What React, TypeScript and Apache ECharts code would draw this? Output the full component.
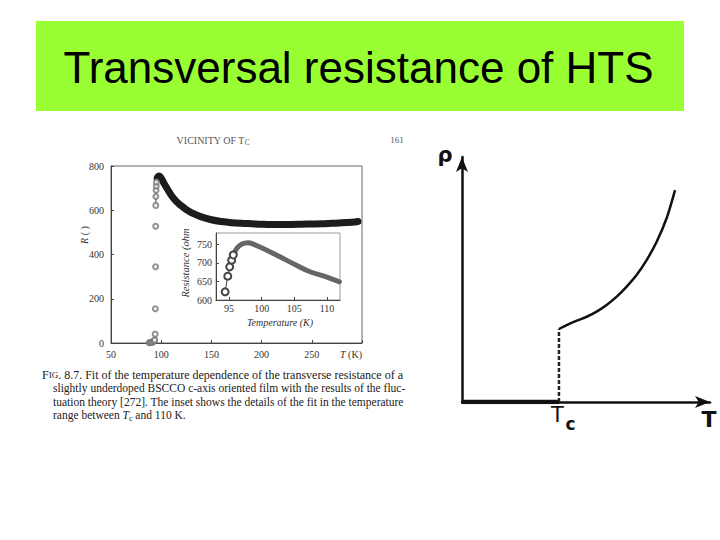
import React, { useEffect, useRef } from "react";
import * as echarts from "echarts";

// ---------- Data ----------
// Main chart: transverse resistance R (ohm) versus T (K)
const MAIN_T = [96, 97, 98, 100, 103, 106, 110, 115, 120, 125, 130, 140, 150, 160, 170, 180, 190, 200, 210, 220, 230, 240, 250, 260, 270, 280, 290, 296];
const MAIN_R = [745, 753, 755, 745, 720, 697, 668, 640, 620, 603, 589, 570, 557, 549, 544, 541, 539, 537, 536, 536, 536, 537, 538, 539, 541, 543, 546, 549];
// Transition region: individual open circles
const TRANS_T = [88, 89, 90, 91, 92, 93, 93.5, 94, 94.2, 94.4, 94.5, 94.6, 94.7, 94.9, 95.1, 95.3];
const TRANS_R = [1, 2, 3, 4, 6, 9, 14, 40, 155, 345, 528, 622, 662, 690, 710, 728];
// Fit line through the upper part of the transition
const FIT_T = [94.6, 94.7, 94.9, 95.1, 95.3, 96];
const FIT_R = [622, 662, 690, 710, 728, 745];
const MAIN_X_TICKS = [50, 100, 150, 200, 250, 300];
const MAIN_Y_TICKS = [0, 200, 400, 600, 800];

// Inset: details between Tc and 110 K
const INSET_CIRCLE_T = [94.4, 94.8, 95.1, 95.4, 95.65];
const INSET_CIRCLE_R = [622, 664, 689, 707, 721];
const INSET_T = [95.65, 96.2, 96.9, 97.95, 98.7, 100.15, 102.8, 105.25, 107.4, 110.1, 111.9];
const INSET_R = [721, 739, 750, 754, 750, 739, 716, 694, 676, 661, 649];
const INSET_X_TICKS = [95, 100, 105, 110];
const INSET_Y_TICKS = [600, 650, 700, 750];

// Schematic rho(T)
const TC = 3.91;
const TC_RHO = 2.98;
const SCHEM_T = [3.91, 4.22, 4.63, 5.03, 5.43, 5.83, 6.24, 6.64, 7.04, 7.45, 7.85, 8.25, 8.59];
const SCHEM_RHO = [2.98, 3.14, 3.32, 3.48, 3.69, 3.96, 4.3, 4.71, 5.18, 5.8, 6.54, 7.5, 8.65];

const TITLE = "Transversal resistance of HTS";
const CAPTION = [
  "{sc|F}{scs|IG}{sc|. 8.7.} Fit of the temperature dependence of the transverse resistance of a",
  "slightly underdoped BSCCO c-axis oriented film with the results of the fluc-",
  "tuation theory [272]. The inset shows the details of the fit in the temperature",
  "range between {i|T}{s|c} and 110 K.",
];
const CAPTION_SIZES = [12, 11.5, 11.5, 11.5];

const SERIF = "Liberation Serif";
const SANS = "Liberation Sans";

const zip = (a: number[], b: number[]) => a.map((v, i) => [v, b[i]]);

export default function App() {
  const ref = useRef<HTMLDivElement>(null);
  useEffect(() => {
    if (!ref.current) return;
    const chart = echarts.init(ref.current, undefined, { renderer: "svg" });

    const smallAxis = (extra: any) => ({
      type: "value",
      splitLine: { show: false },
      axisLine: { show: true, onZero: false, lineStyle: { color: "#444", width: 1 } },
      axisTick: { show: true, inside: true, length: 3, lineStyle: { color: "#444" } },
      axisLabel: { fontSize: 10, fontFamily: SERIF, color: "#333" },
      ...extra,
    });

    const schemAxis = (gridIndex: number) => ({
      type: "value",
      gridIndex,
      min: 0,
      max: 10,
      splitLine: { show: false },
      axisTick: { show: false },
      axisLabel: { show: false },
      axisLine: {
        show: true,
        onZero: false,
        symbol: ["none", "arrow"],
        symbolSize: [9, 15],
        lineStyle: { color: "#111", width: 2.5 },
      },
    });

    const captionRich = (fs: number) => ({
      sc: { fontSize: fs, fontFamily: SERIF, fill: "#222" },
      scs: { fontSize: fs * 0.75, fontFamily: SERIF, fill: "#222" },
      i: { fontSize: fs, fontFamily: SERIF, fontStyle: "italic", fill: "#222" },
      s: { fontSize: fs * 0.68, fontFamily: SERIF, fill: "#222", padding: [6, 0, 0, 0] },
    });

    const option: any = {
      animation: false,
      backgroundColor: "#ffffff",
      grid: [
        { left: 111, top: 166, width: 251, height: 177, show: true, borderColor: "#666", borderWidth: 1 },
        { left: 216, top: 233, width: 124, height: 67, show: true, borderColor: "#999", borderWidth: 1, backgroundColor: "#ffffff" },
        { left: 462, top: 157, width: 248, height: 245 },
      ],
      xAxis: [
        smallAxis({
          gridIndex: 0,
          min: MAIN_X_TICKS[0],
          max: MAIN_X_TICKS[MAIN_X_TICKS.length - 1],
          interval: 50,
          axisLabel: {
            fontSize: 10,
            fontFamily: SERIF,
            color: "#333",
            margin: 6,
            alignMaxLabel: "right",
            formatter: (v: number) => (v === 300 ? "{i|T} (K)" : String(v)),
            rich: { i: { fontSize: 10, fontFamily: SERIF, fontStyle: "italic", color: "#333" } },
          },
        }),
        smallAxis({
          gridIndex: 1,
          min: 93,
          max: 112,
          axisTick: { show: true, inside: true, length: 3, customValues: INSET_X_TICKS, lineStyle: { color: "#444" } },
          axisLabel: { fontSize: 10, fontFamily: SERIF, color: "#333", margin: 3, customValues: INSET_X_TICKS },
        }),
        schemAxis(2),
      ],
      yAxis: [
        smallAxis({
          gridIndex: 0,
          min: MAIN_Y_TICKS[0],
          max: MAIN_Y_TICKS[MAIN_Y_TICKS.length - 1],
          interval: 200,
          axisLabel: { fontSize: 10, fontFamily: SERIF, color: "#333", margin: 7 },
        }),
        smallAxis({
          gridIndex: 1,
          min: 600,
          max: 780,
          axisTick: { show: true, inside: true, length: 3, customValues: INSET_Y_TICKS, lineStyle: { color: "#444" } },
          axisLabel: { fontSize: 10, fontFamily: SERIF, color: "#333", margin: 4, customValues: INSET_Y_TICKS },
        }),
        schemAxis(2),
      ],
      series: [
        // main chart
        {
          type: "line",
          xAxisIndex: 0,
          yAxisIndex: 0,
          data: zip(MAIN_T, MAIN_R),
          smooth: 0.4,
          showSymbol: false,
          lineStyle: { color: "#1c1c1c", width: 7, cap: "round", join: "round" },
          z: 3,
        },
        {
          type: "line",
          xAxisIndex: 0,
          yAxisIndex: 0,
          data: zip(FIT_T, FIT_R),
          showSymbol: false,
          lineStyle: { color: "#444", width: 1 },
          z: 3,
        },
        {
          type: "scatter",
          xAxisIndex: 0,
          yAxisIndex: 0,
          data: zip(TRANS_T, TRANS_R),
          symbol: "emptyCircle",
          symbolSize: 5,
          itemStyle: { color: "#777", borderWidth: 1 },
          z: 4,
        },
        // inset
        {
          type: "line",
          xAxisIndex: 1,
          yAxisIndex: 1,
          data: zip(INSET_T, INSET_R),
          smooth: 0.4,
          showSymbol: false,
          lineStyle: { color: "#666", width: 5, cap: "round", join: "round" },
          z: 5,
        },
        {
          type: "line",
          xAxisIndex: 1,
          yAxisIndex: 1,
          data: zip(INSET_CIRCLE_T, INSET_CIRCLE_R),
          smooth: 0.3,
          symbol: "emptyCircle",
          symbolSize: 7,
          showSymbol: true,
          itemStyle: { color: "#444", borderWidth: 1 },
          lineStyle: { color: "#333", width: 1 },
          z: 6,
        },
        // schematic
        {
          type: "line",
          xAxisIndex: 2,
          yAxisIndex: 2,
          data: [[0, 0], [TC, 0]],
          showSymbol: false,
          lineStyle: { color: "#111", width: 4.5 },
          z: 5,
        },
        {
          type: "line",
          xAxisIndex: 2,
          yAxisIndex: 2,
          data: [[TC, 0], [TC, TC_RHO]],
          showSymbol: false,
          lineStyle: { color: "#222", width: 2.5, type: [4, 2] },
          z: 5,
        },
        {
          type: "line",
          xAxisIndex: 2,
          yAxisIndex: 2,
          data: zip(SCHEM_T, SCHEM_RHO),
          smooth: 0.3,
          showSymbol: false,
          lineStyle: { color: "#111", width: 2.5 },
          z: 5,
        },
      ],
      graphic: [
        { type: "rect", z: 0, shape: { x: 36, y: 21, width: 648, height: 90 }, style: { fill: "#99ff33" } },
        {
          type: "text",
          z: 10,
          style: { text: TITLE, x: 358.5, y: 67, align: "center", verticalAlign: "middle", fontSize: 44, fontFamily: SANS, fill: "#000" },
        },
        // header of the scanned page
        {
          type: "text",
          style: {
            text: "{a|VICINITY OF T}{b|C}",
            x: 213,
            y: 140,
            align: "center",
            verticalAlign: "middle",
            rich: {
              a: { fontSize: 10, fontFamily: SERIF, fill: "#555" },
              b: { fontSize: 7.5, fontFamily: SERIF, fill: "#555", padding: [4, 0, 0, 0] },
            },
          },
        },
        { type: "text", style: { text: "161", x: 397, y: 140, align: "center", verticalAlign: "middle", fontSize: 9, fontFamily: SERIF, fill: "#555" } },
        // main chart y-axis name
        {
          type: "text",
          x: 84,
          y: 235,
          rotation: Math.PI / 2,
          style: {
            text: "{i|R} ( )",
            align: "center",
            verticalAlign: "middle",
            fontSize: 10,
            fontFamily: SERIF,
            fill: "#333",
            rich: { i: { fontSize: 10, fontFamily: SERIF, fontStyle: "italic", fill: "#333" } },
          },
        },
        // inset axis names
        {
          type: "text",
          x: 185,
          y: 263,
          rotation: Math.PI / 2,
          style: { text: "Resistance (ohm", align: "center", verticalAlign: "middle", fontSize: 10.5, fontFamily: SERIF, fontStyle: "italic", fill: "#333" },
        },
        {
          type: "text",
          style: { text: "Temperature (K)", x: 280, y: 322, align: "center", verticalAlign: "middle", fontSize: 10, fontFamily: SERIF, fontStyle: "italic", fill: "#333" },
        },
        // caption
        ...CAPTION.map((line, i) => ({
          type: "text",
          style: {
            text: line,
            x: i === 0 ? 42 : 53,
            y: 375 + i * 13.4,
            align: "left",
            verticalAlign: "middle",
            fontSize: CAPTION_SIZES[i],
            fontFamily: SERIF,
            fill: "#222",
            rich: captionRich(CAPTION_SIZES[i]),
          },
        })),
        // schematic labels
        { type: "text", style: { text: "ρ", x: 445, y: 155, align: "center", verticalAlign: "middle", fontSize: 21, fontWeight: "bold", fontFamily: "DejaVu Sans", fill: "#111" } },
        { type: "text", style: { text: "T", x: 709, y: 419, align: "center", verticalAlign: "middle", fontSize: 22, fontWeight: "bold", fontFamily: "DejaVu Sans", fill: "#111" } },
        { type: "text", style: { text: "T", x: 557.5, y: 415, align: "center", verticalAlign: "middle", fontSize: 21, fontFamily: "DejaVu Sans", fill: "#111" } },
        { type: "text", style: { text: "c", x: 570.5, y: 424, align: "center", verticalAlign: "middle", fontSize: 17, fontWeight: "bold", fontFamily: "DejaVu Sans", fill: "#111" } },
      ],
    };

    chart.setOption(option);
    return () => chart.dispose();
  }, []);

  return <div ref={ref} style={{ position: "fixed", left: 0, top: 0, width: 720, height: 540, background: "#fff" }} />;
}
